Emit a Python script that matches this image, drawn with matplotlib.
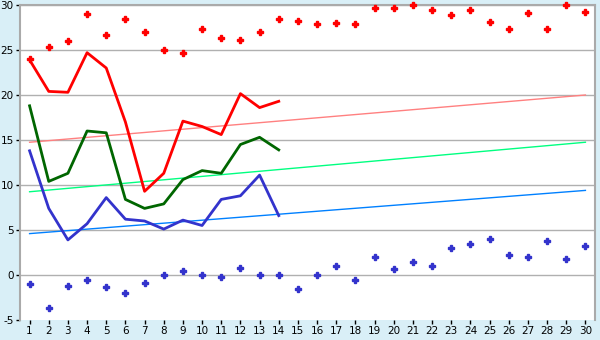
import matplotlib
matplotlib.use("Agg")
import matplotlib.pyplot as plt

plt.rcParams["axes.unicode_minus"] = False

days = list(range(1, 31))
line_days = list(range(1, 15))

red_line = [23.9, 20.4, 20.3, 24.7, 23.0, 17.0, 9.3, 11.3, 17.1, 16.5, 15.6, 20.15, 18.6, 19.3]
green_line = [18.8, 10.4, 11.3, 16.0, 15.8, 8.4, 7.4, 7.9, 10.6, 11.6, 11.3, 14.5, 15.3, 13.9]
blue_line = [13.8, 7.4, 3.9, 5.7, 8.6, 6.2, 6.0, 5.1, 6.1, 5.5, 8.4, 8.8, 11.1, 6.6]

red_points = [24.0, 25.3, 26.0, 29.0, 26.7, 28.5, 27.0, 25.0, 24.7, 27.3,
              26.3, 26.1, 27.0, 28.4, 28.2, 27.9, 28.0, 27.9, 29.7, 29.7,
              30.0, 29.5, 28.9, 29.5, 28.1, 27.3, 29.1, 27.3, 30.0, 29.2]
blue_points = [-1.0, -3.7, -1.25, -0.6, -1.35, -2.0, -0.9, 0.05, 0.5, 0.0,
               -0.25, 0.75, 0.05, 0.05, -1.6, 0.0, 1.05, -0.5, 1.95, 0.65,
               1.5, 1.05, 2.95, 3.4, 3.95, 2.2, 2.05, 3.75, 1.75, 3.2]

trend_days = [1, 30]
red_trend = [14.75, 20.0]
green_trend = [9.25, 14.75]
blue_trend = [4.6, 9.4]

yticks = [-5, 0, 5, 10, 15, 20, 25, 30]

fig = plt.figure(figsize=(6, 3.4), dpi=100)
fig.patch.set_facecolor("#d9eff7")
ax = fig.add_axes([20/600, 20/340, 575/600, 315/340])
ax.set_facecolor("white")

for y in yticks[1:]:
    ax.axhline(y, color="#b0b0b0", lw=1, zorder=1)

ax.plot(trend_days, red_trend, color="#ff8080", lw=1, zorder=2)
ax.plot(trend_days, green_trend, color="#00ff80", lw=1, zorder=2)
ax.plot(trend_days, blue_trend, color="#0080ff", lw=1, zorder=2)

ax.plot(line_days, red_line, color="#ff0000", lw=2, zorder=3)
ax.plot(line_days, green_line, color="#006600", lw=2, zorder=3)
ax.plot(line_days, blue_line, color="#3333cc", lw=2, zorder=3)

ax.plot(days, red_points, ls="none", marker="P", ms=4.5, color="#ff0000", mec="#ff0000", zorder=4, clip_on=False)
ax.plot(days, blue_points, ls="none", marker="P", ms=4.5, color="#3333cc", mec="#3333cc", zorder=4, clip_on=False)

ax.set_xlim(0.5, 30.5)
ax.set_ylim(-5, 30)
ax.set_xticks(days)
ax.set_yticks(yticks)
ax.set_yticklabels([str(v) for v in yticks])
ax.tick_params(axis="both", labelsize=7.5, colors="black", length=3, width=1, pad=1.5)
for s in ["left", "top", "right"]:
    ax.spines[s].set_color("#aaaaaa")
    ax.spines[s].set_linewidth(1.5)
ax.spines["bottom"].set_visible(False)

fig.savefig("out.png", dpi=100, facecolor=fig.get_facecolor())
